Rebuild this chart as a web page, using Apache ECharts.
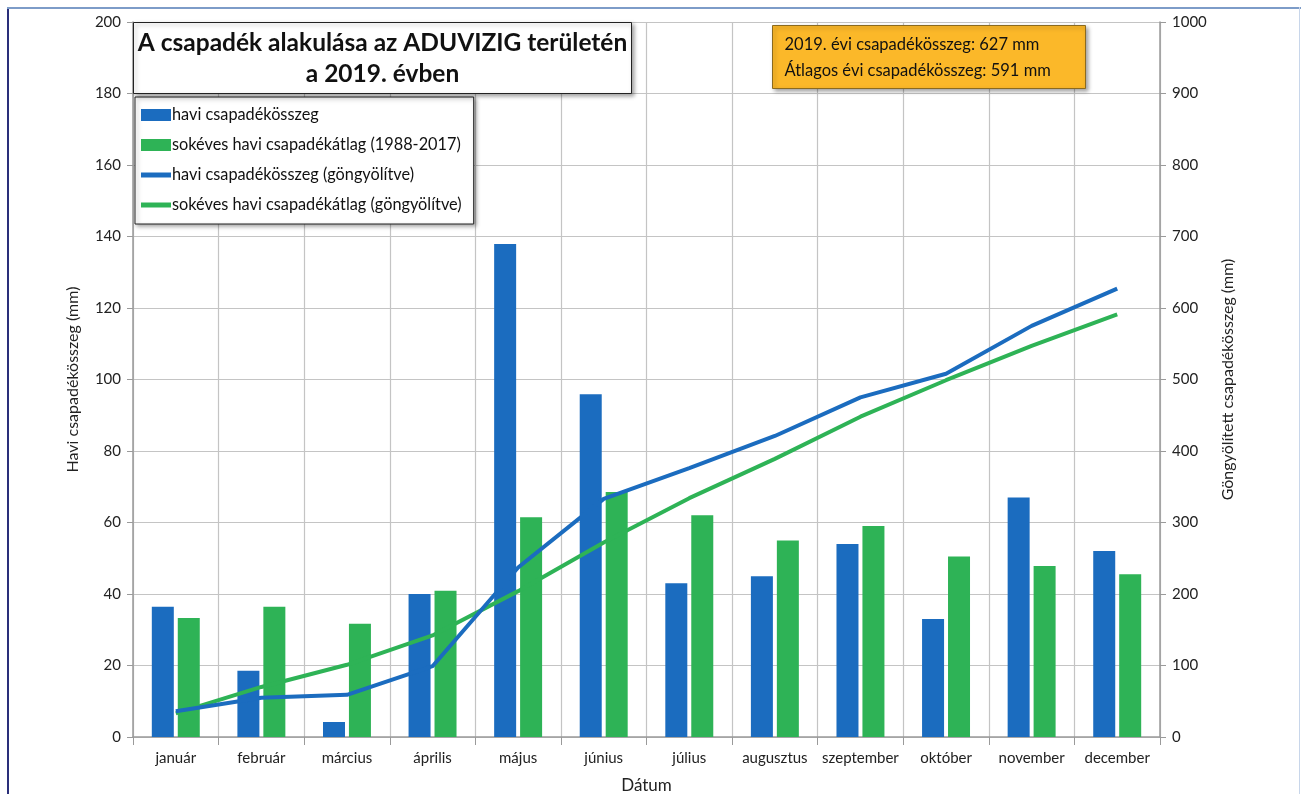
<!DOCTYPE html>
<html lang="hu">
<head>
    <meta charset="UTF-8">
    <title>A csapadék alakulása az ADUVIZIG területén</title>
    <script src="https://cdn.jsdelivr.net/npm/echarts@6/dist/echarts.min.js"></script>
    <style>
        html, body { margin: 0; padding: 0; background: #fff; }
        #chart { width: 1301px; height: 794px; }
    </style>
</head>
<body>
<div id="chart"></div>
<script type="text/javascript">
    // adatok (mm)
    var honapok = ['január', 'február', 'március', 'április', 'május', 'június',
        'július', 'augusztus', 'szeptember', 'október', 'november', 'december'];
    var haviOsszeg = [36.4, 18.5, 4.2, 40, 137.9, 95.9, 43, 45, 54, 33, 67, 52];
    var sokevesAtlag = [33.3, 36.4, 31.7, 40.9, 61.5, 68.5, 62, 55, 59, 50.5, 47.8, 45.5];
    var haviGongyolitve = [36, 55, 59, 99, 237, 333, 376, 421, 475, 508, 575, 627];
    var sokevesGongyolitve = [33, 70, 101, 142, 204, 272, 334, 389, 448, 499, 547, 591];

    var KEK = '#1b6cbf';
    var ZOLD = '#2eb356';
    var BETU = 'Lato, "Open Sans", sans-serif';
    var VONAL_IKON = 'path://M0,0 L30,0 L30,5 L0,5 Z';
    var ARNYEK = { shadowBlur: 4, shadowColor: 'rgba(0,0,0,0.35)', shadowOffsetX: 2, shadowOffsetY: 2 };

    window.onload = function () {
        var myChart = echarts.init(document.getElementById('chart'));
        var option = {
            backgroundColor: '#fff',
            textStyle: { fontFamily: BETU },
            grid: { left: 133, right: 141, top: 22, bottom: 57, outerBoundsMode: 'none' },
            legend: {
                orient: 'vertical',
                left: 135,
                top: 97,
                padding: [10, 12, 11, 6],
                itemGap: 14,
                itemWidth: 30,
                itemHeight: 12,
                backgroundColor: '#fff',
                borderColor: '#222',
                borderWidth: 1,
                shadowBlur: 4,
                shadowColor: 'rgba(0,0,0,0.35)',
                shadowOffsetX: 2,
                shadowOffsetY: 2,
                textStyle: { fontSize: 16.3, color: '#111', padding: [0, 0, 0, -4] },
                data: [
                    { name: 'havi csapadékösszeg', icon: 'rect' },
                    { name: 'sokéves havi csapadékátlag (1988-2017)', icon: 'rect' },
                    { name: 'havi csapadékösszeg (göngyölítve)', icon: VONAL_IKON },
                    { name: 'sokéves havi csapadékátlag (göngyölítve)', icon: VONAL_IKON }
                ]
            },
            xAxis: {
                type: 'category',
                data: honapok,
                boundaryGap: true,
                name: 'Dátum',
                nameLocation: 'middle',
                nameGap: 40,
                nameTextStyle: { fontSize: 17, color: '#222' },
                axisLine: { lineStyle: { color: '#9a9a9a', width: 1.5 } },
                axisTick: { show: true, length: 8, lineStyle: { color: '#9a9a9a' } },
                axisLabel: { fontSize: 15, color: '#222', margin: 14, interval: 0 },
                splitLine: { show: true, lineStyle: { color: '#c4c4c4', width: 1.2 } }
            },
            yAxis: [{
                type: 'value',
                min: 0,
                max: 200,
                interval: 20,
                name: 'Havi csapadékösszeg (mm)',
                nameLocation: 'middle',
                nameGap: 52,
                nameTextStyle: { fontSize: 16, color: '#222' },
                axisLine: { show: true, lineStyle: { color: '#9a9a9a', width: 1.5 } },
                axisTick: { show: true, length: 6, lineStyle: { color: '#9a9a9a' } },
                axisLabel: { fontSize: 15, color: '#222', margin: 12 },
                splitLine: { show: true, lineStyle: { color: '#c4c4c4', width: 1.2 } }
            }, {
                type: 'value',
                min: 0,
                max: 1000,
                interval: 100,
                name: 'Göngyölített csapadékösszeg (mm)',
                nameLocation: 'middle',
                nameGap: 60,
                nameTextStyle: { fontSize: 16, color: '#222' },
                axisLine: { show: true, lineStyle: { color: '#9a9a9a', width: 1.5 } },
                axisTick: { show: true, length: 6, lineStyle: { color: '#9a9a9a' } },
                axisLabel: {
                    fontSize: 15, color: '#222', margin: 12,
                    formatter: function (v) { return String(v); }
                },
                splitLine: { show: false }
            }],
            series: [{
                name: 'havi csapadékösszeg',
                type: 'bar',
                data: haviOsszeg,
                barWidth: 22,
                barGap: '18%',
                itemStyle: { color: KEK }
            }, {
                name: 'sokéves havi csapadékátlag (1988-2017)',
                type: 'bar',
                data: sokevesAtlag,
                barWidth: 22,
                itemStyle: { color: ZOLD }
            }, {
                name: 'havi csapadékösszeg (göngyölítve)',
                type: 'line',
                yAxisIndex: 1,
                data: haviGongyolitve,
                symbol: 'none',
                z: 5,
                lineStyle: { color: KEK, width: 4 },
                itemStyle: { color: KEK }
            }, {
                name: 'sokéves havi csapadékátlag (göngyölítve)',
                type: 'line',
                yAxisIndex: 1,
                data: sokevesGongyolitve,
                symbol: 'none',
                z: 4,
                lineStyle: { color: ZOLD, width: 4 },
                itemStyle: { color: ZOLD }
            }],
            graphic: [
                // keret
                { type: 'rect', left: 7, top: 7, z: 60, shape: { width: 2, height: 790 }, style: { fill: '#2a2f7a' }, silent: true },
                { type: 'rect', left: 7, top: 7, z: 60, shape: { width: 1294, height: 2 }, style: { fill: '#7d9cc8' }, silent: true },
                { type: 'rect', left: 1299, top: 7, z: 60, shape: { width: 1, height: 790 }, style: { fill: '#c8d6ea' }, silent: true },
                // cím doboz
                {
                    type: 'group', left: 133, top: 22, z: 50,
                    children: [{
                        type: 'rect', z: 50,
                        shape: { width: 498, height: 71 },
                        style: Object.assign({ fill: '#fff', stroke: '#222', lineWidth: 1 }, ARNYEK)
                    }, {
                        type: 'text', z: 51,
                        x: 249, y: 5,
                        style: {
                            text: 'A csapadék alakulása az ADUVIZIG területén\na 2019. évben',
                            font: 'bold 24.5px ' + BETU,
                            fill: '#111',
                            align: 'center',
                            lineHeight: 31
                        }
                    }]
                },
                // összesítő doboz
                {
                    type: 'group', left: 772, top: 25, z: 50,
                    children: [{
                        type: 'rect', z: 50,
                        shape: { width: 313, height: 63 },
                        style: Object.assign({ fill: '#fbb829', stroke: '#8a6a20', lineWidth: 1 }, ARNYEK)
                    }, {
                        type: 'text', z: 51,
                        x: 12, y: 6,
                        style: {
                            text: '2019. évi csapadékösszeg: 627 mm\nÁtlagos évi csapadékösszeg: 591 mm',
                            font: '16.5px ' + BETU,
                            fill: '#111',
                            lineHeight: 26
                        }
                    }]
                }
            ]
        };
        myChart.setOption(option);
    };
</script>
</body>
</html>
